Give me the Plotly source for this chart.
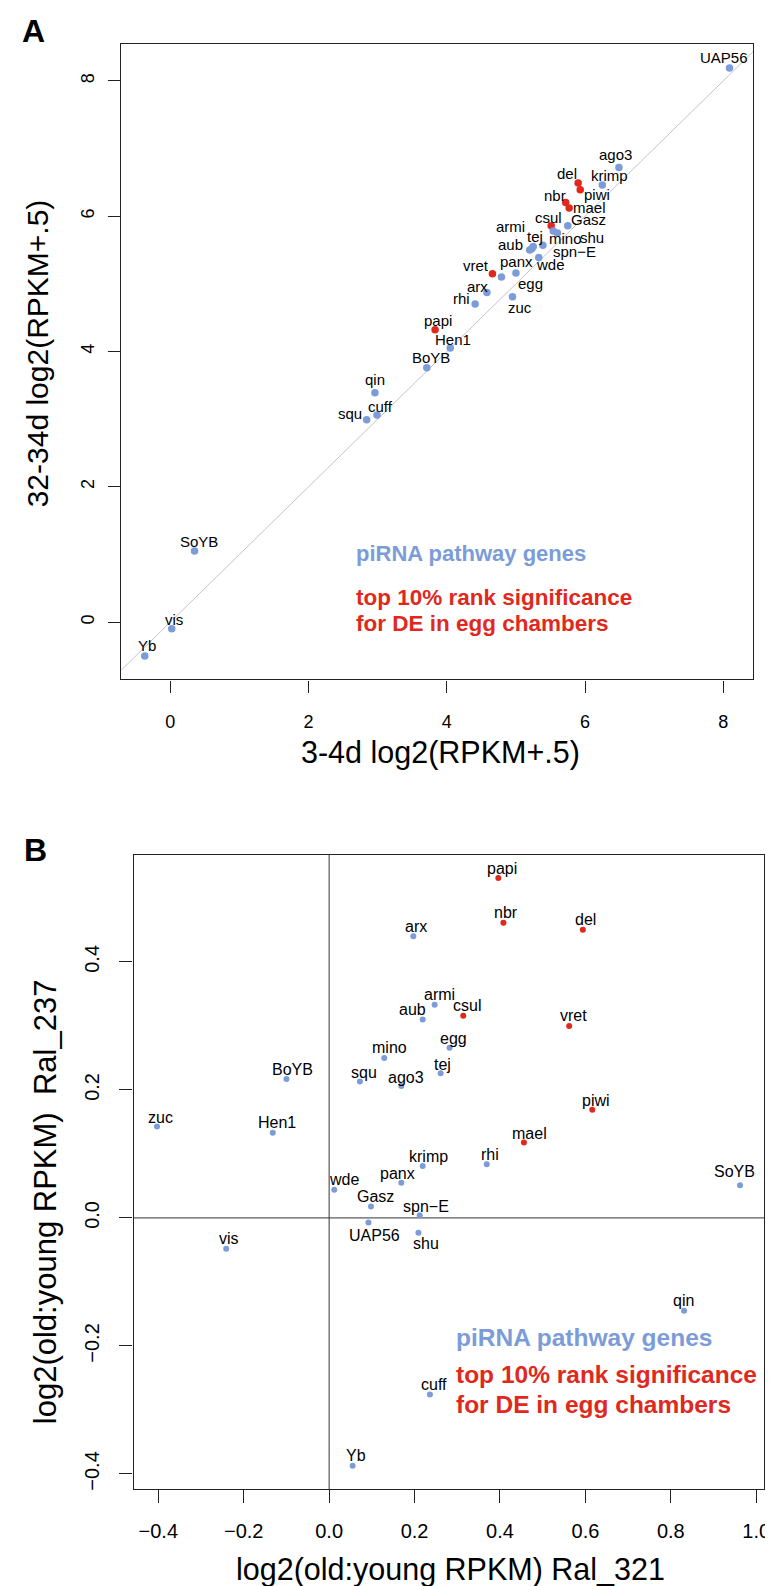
import plotly.graph_objects as go

W, H = 773, 1586
BLUE = "#7b9cd9"
RED = "#e0281d"
FONT = "Liberation Sans, Arial, Helvetica, sans-serif"

# ---------------- Panel A data ----------------
a_genes = ["UAP56", "ago3", "krimp", "del", "piwi", "nbr", "mael", "csul", "Gasz",
           "mino", "shu", "spn\u2212E", "armi", "tej", "aub", "wde", "panx", "egg",
           "vret", "arx", "rhi", "zuc", "papi", "Hen1", "BoYB", "qin", "cuff", "squ",
           "SoYB", "vis", "Yb"]
a_x = [8.09, 6.49, 6.25, 5.90, 5.93, 5.72, 5.77, 5.51, 5.75,
       5.54, 5.60, 5.39, 5.25, 5.23, 5.20, 5.33, 5.00, 4.79,
       4.66, 4.58, 4.41, 4.95, 3.83, 4.05, 3.71, 2.96, 2.99, 2.84,
       0.35, 0.02, -0.37]
a_y = [8.19, 6.72, 6.46, 6.49, 6.39, 6.20, 6.12, 5.86, 5.86,
       5.78, 5.75, 5.57, 5.55, 5.52, 5.50, 5.39, 5.16, 5.10,
       5.15, 4.87, 4.70, 4.81, 4.32, 4.05, 3.76, 3.39, 3.06, 2.99,
       1.05, -0.10, -0.50]

# ---------------- Panel B data ----------------
b_genes = ["papi", "nbr", "del", "arx", "armi", "aub", "csul", "vret", "egg", "mino",
           "tej", "squ", "ago3", "piwi", "BoYB", "zuc", "Hen1", "mael", "krimp", "rhi",
           "SoYB", "wde", "panx", "Gasz", "spn\u2212E", "UAP56", "shu", "vis", "qin",
           "cuff", "Yb"]
b_x = [0.396, 0.408, 0.594, 0.197, 0.247, 0.219, 0.314, 0.562, 0.282, 0.129,
       0.261, 0.072, 0.169, 0.616, -0.100, -0.403, -0.132, 0.456, 0.219, 0.369,
       0.962, 0.012, 0.169, 0.098, 0.212, 0.092, 0.209, -0.241, 0.831,
       0.236, 0.055]
b_y = [0.531, 0.461, 0.450, 0.440, 0.333, 0.310, 0.316, 0.300, 0.266, 0.250,
       0.226, 0.213, 0.206, 0.169, 0.217, 0.143, 0.133, 0.118, 0.081, 0.084,
       0.051, 0.044, 0.055, 0.018, 0.004, -0.007, -0.023, -0.048, -0.145,
       -0.276, -0.387]

# genes in top 10% rank significance for DE in egg chambers
de_genes = ["papi", "nbr", "del", "csul", "vret", "piwi", "mael"]

# label offsets (pixels: dx right, dy down)
a_off = {"UAP56": (-6, -10), "ago3": (-3, -13), "krimp": (7, -10), "del": (-11, -10),
         "piwi": (17, 5), "nbr": (-11, -7), "mael": (20, -1), "csul": (-3, -8),
         "Gasz": (21, -6), "mino": (12, 7), "shu": (35, 4), "spn\u2212E": (32, 6),
         "armi": (-23, -20), "tej": (3, -12), "aub": (-19, -5), "wde": (12, 7),
         "panx": (1, -11), "egg": (29, 6), "vret": (-16, -8), "arx": (-9, -6),
         "rhi": (-14, -6), "zuc": (8, 11), "papi": (3, -9), "Hen1": (3, -9),
         "BoYB": (4, -10), "qin": (0, -13), "cuff": (3, -9), "squ": (-17, -6),
         "SoYB": (4, -10), "vis": (2, -9), "Yb": (2, -10)}
b_off = {"papi": (4, -10), "nbr": (3, -10), "del": (3, -10), "arx": (3, -10),
         "armi": (5, -10), "aub": (-10, -10), "csul": (4, -10), "vret": (4, -10),
         "egg": (4, -9), "mino": (5, -10), "tej": (2, -9), "squ": (4, -9),
         "ago3": (5, -9), "piwi": (4, -9), "BoYB": (6, -10), "zuc": (3, -9),
         "Hen1": (4, -10), "mael": (6, -9), "krimp": (6, -10), "rhi": (3, -10),
         "SoYB": (-6, -14), "wde": (10, -10), "panx": (-4, -9), "Gasz": (5, -10),
         "spn\u2212E": (6, -9), "UAP56": (6, 13), "shu": (8, 11), "vis": (3, -10),
         "qin": (-1, -10), "cuff": (4, -10), "Yb": (3, -10)}


def px(x):
    return x / W


def py(y):
    return 1 - y / H


def paper_text(x, y, text, size, color="black", angle=0, xanchor="center"):
    return dict(x=px(x), y=py(y), xref="paper", yref="paper", showarrow=False,
                xanchor=xanchor, yanchor="middle", textangle=angle, text=text,
                font=dict(size=size, color=color, family=FONT))


fig = go.Figure()

a_col = [RED if g in de_genes else BLUE for g in a_genes]
b_col = [RED if g in de_genes else BLUE for g in b_genes]

fig.add_trace(go.Scatter(x=a_x, y=a_y, mode="markers", xaxis="x", yaxis="y",
                         marker=dict(size=7.5, color=a_col), showlegend=False,
                         cliponaxis=False))
fig.add_trace(go.Scatter(x=b_x, y=b_y, mode="markers", xaxis="x2", yaxis="y2",
                         marker=dict(size=6, color=b_col), showlegend=False,
                         cliponaxis=False))

ann = []
for g, x, y in zip(a_genes, a_x, a_y):
    dx, dy = a_off[g]
    ann.append(dict(x=x, y=y, xref="x", yref="y", text=g, showarrow=False,
                    xanchor="center", yanchor="middle",
                    xshift=dx, yshift=-dy, font=dict(size=15, color="black", family=FONT)))
for g, x, y in zip(b_genes, b_x, b_y):
    dx, dy = b_off[g]
    ann.append(dict(x=x, y=y, xref="x2", yref="y2", text=g, showarrow=False,
                    xanchor="center", yanchor="middle",
                    xshift=dx, yshift=-dy, font=dict(size=16, color="black", family=FONT)))

# legends
ann += [
    paper_text(349, 546, "<b>piRNA pathway genes</b>", 22, BLUE, xanchor="left"),
    paper_text(349, 590, "<b>top 10% rank significance</b>", 22.5, RED, xanchor="left"),
    paper_text(349, 616, "<b>for DE in egg chambers</b>", 22.5, RED, xanchor="left"),
    paper_text(449, 1331, "<b>piRNA pathway genes</b>", 24.5, BLUE, xanchor="left"),
    paper_text(449, 1368, "<b>top 10% rank significance</b>", 24.5, RED, xanchor="left"),
    paper_text(449, 1398, "<b>for DE in egg chambers</b>", 24.5, RED, xanchor="left"),
]

# axis titles and panel letters
ann += [
    paper_text(436, 745, "3-4d log2(RPKM+.5)", 30.5),
    paper_text(30, 346, "32-34d log2(RPKM+.5)", 30),
    paper_text(446, 1563, "log2(old:young RPKM) Ral_321", 30.5),
    paper_text(38, 1195, "log2(old:young RPKM)  Ral_237", 31, angle=-90),
    paper_text(26, 23, "<b>A</b>", 32),
    paper_text(28, 843, "<b>B</b>", 32),
]
ann[-5]["textangle"] = -90

shapes = [
    dict(type="line", xref="x", yref="y", x0=-2, y0=-2, x1=10, y1=10,
         line=dict(color="#c4c4c4", width=1), layer="below"),
    dict(type="line", xref="x2", yref="y2 domain", x0=0, x1=0, y0=0, y1=1,
         line=dict(color="#333333", width=1), layer="below"),
    dict(type="line", xref="x2 domain", yref="y2", x0=0, x1=1, y0=0, y1=0,
         line=dict(color="#333333", width=1), layer="below"),
]

axis_common = dict(showgrid=False, zeroline=False, showline=True, mirror=True,
                   linecolor="#222222", linewidth=1.2, ticks="outside",
                   tickcolor="#222222", tickwidth=1.2)

fig.update_layout(
    width=W, height=H, margin=dict(l=0, r=0, t=0, b=0),
    paper_bgcolor="white", plot_bgcolor="white",
    font=dict(family=FONT, color="black"),
    annotations=ann, shapes=shapes,
    xaxis=dict(domain=[px(114.3), px(750.7)], range=[-0.708, 8.428], anchor="y",
               tickvals=[0, 2, 4, 6, 8], ticklen=12, ticklabelstandoff=14,
               tickfont=dict(size=18), **axis_common),
    yaxis=dict(domain=[py(672.3), py(36.5)], range=[-0.848, 8.538], anchor="x",
               tickvals=[0, 2, 4, 6, 8], ticklen=12, ticklabelstandoff=7, tickangle=-90,
               tickfont=dict(size=18), **axis_common),
    xaxis2=dict(domain=[px(126.5), px(762.3)], range=[-0.458, 1.019], anchor="y2",
                tickvals=[-0.4, -0.2, 0, 0.2, 0.4, 0.6, 0.8, 1.0], tickformat=".1f",
                ticklen=13, ticklabelstandoff=11, tickfont=dict(size=20), **axis_common),
    yaxis2=dict(domain=[py(1483), py(847.6)], range=[-0.4237, 0.5677], anchor="x2",
                tickvals=[-0.4, -0.2, 0, 0.2, 0.4], tickformat=".1f", tickangle=-90,
                ticklen=13, ticklabelstandoff=12, tickfont=dict(size=20), **axis_common),
)

fig.write_html("out.html")
